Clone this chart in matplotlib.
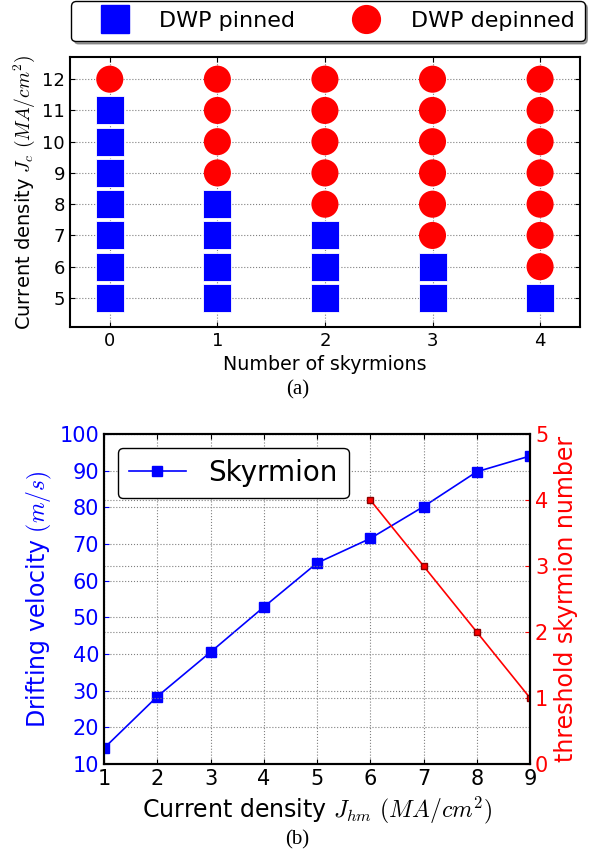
import matplotlib
matplotlib.use("Agg")
import matplotlib.pyplot as plt
from matplotlib.lines import Line2D

plt.rcParams["mathtext.fontset"] = "cm"
plt.rcParams["xtick.direction"] = "in"
plt.rcParams["ytick.direction"] = "in"
plt.rcParams["xtick.top"] = True
plt.rcParams["ytick.right"] = True

# (a) pinning map: number of skyrmions vs current density
skyrmions = [0, 1, 2, 3, 4]
densities = [5, 6, 7, 8, 9, 10, 11, 12]
# highest current density at which the DWP is still pinned
pinned_up_to = [11, 8, 7, 6, 5]

# (b) drifting velocity and threshold skyrmion number
j_hm = [1, 2, 3, 4, 5, 6, 7, 8, 9]
velocity = [14.3, 28.4, 40.5, 52.8, 64.8, 71.5, 80.2, 89.7, 94.0]
j_thr = [6, 7, 8, 9]
threshold = [4, 3, 2, 1]

fig = plt.figure(figsize=(5.95, 8.56), dpi=100)

# ---- panel (a)
ax1 = fig.add_axes([0.1176, 0.618, 0.857, 0.3154])
px, py, dx, dy = [], [], [], []
for n, lim in zip(skyrmions, pinned_up_to):
    for j in densities:
        if j <= lim:
            px.append(n)
            py.append(j)
        else:
            dx.append(n)
            dy.append(j)
ax1.scatter(px, py, marker="s", s=400, c="blue", edgecolors="white", linewidths=0.6, zorder=3)
ax1.scatter(dx, dy, marker="o", s=380, c="red", edgecolors="none", zorder=3)
ax1.set_xlim(-0.37, 4.37)
ax1.set_ylim(4.07, 12.71)
ax1.set_xticks(skyrmions)
ax1.set_yticks(densities)
ax1.tick_params(labelsize=13)
ax1.grid(True, linestyle=":", color="0.5", linewidth=0.8)
for s in ax1.spines.values():
    s.set_linewidth(1.5)
ax1.set_xlabel("Number of skyrmions", fontsize=13.7)
ax1.set_ylabel(r"Current density $J_c$ $(MA/cm^2)$", fontsize=14)

handles = [
    Line2D([], [], marker="s", color="blue", linestyle="none", markersize=20, markeredgecolor="blue"),
    Line2D([], [], marker="o", color="red", linestyle="none", markersize=20, markeredgecolor="red"),
]
leg1 = ax1.legend(handles, ["DWP pinned", "DWP depinned"], ncol=2, fontsize=16,
                  loc="lower center", bbox_to_anchor=(0.506, 1.059), borderaxespad=0,
                  numpoints=1, fancybox=True, shadow=True, borderpad=0.45,
                  handletextpad=0.5, columnspacing=1.7, handlelength=3.0, framealpha=1)
leg1.get_frame().set_edgecolor("black")

fig.text(0.5, 0.544, "(a)", ha="center", va="center", fontsize=15, family="Liberation Serif")

# ---- panel (b)
ax2 = fig.add_axes([0.1748, 0.1075, 0.716, 0.3855])
ax2.plot(j_hm, velocity, color="blue", marker="s", markersize=7, markeredgecolor="blue",
         linewidth=1.2, label="Skyrmion", zorder=3)
ax2.set_xlim(1, 9)
ax2.set_ylim(10, 100)
ax2.set_xticks(j_hm)
ax2.set_yticks(range(10, 101, 10))
ax2.tick_params(axis="y", labelsize=15, colors="blue", right=False)
ax2.tick_params(axis="x", labelsize=15)
ax2.grid(True, linestyle=":", color="0.5", linewidth=0.8)
ax2.set_xlabel(r"Current density $J_{hm}$ $(MA/cm^2)$", fontsize=17)
ax2.set_ylabel(r"Drifting velocity $(m/s)$", fontsize=17, color="blue")
for s in ax2.spines.values():
    s.set_linewidth(1.5)
leg2 = ax2.legend(loc="upper left", fontsize=20, numpoints=1, fancybox=True,
                  handlelength=2.05, handletextpad=0.8, borderpad=0.4,
                  borderaxespad=0.5, framealpha=1)
leg2.get_frame().set_edgecolor("black")

ax3 = ax2.twinx()
ax3.plot(j_thr, threshold, color="red", marker="s", markersize=5, markeredgecolor="darkred",
         linewidth=1.2)
ax3.set_ylim(0, 5)
ax3.set_yticks(range(0, 6))
ax3.tick_params(axis="y", labelsize=15, labelcolor="red", color="red", direction="in")
ax3.grid(True, axis="y", linestyle=":", color="0.5", linewidth=0.8)
ax3.set_ylabel("threshold skyrmion number", fontsize=17, color="red")
for s in ax3.spines.values():
    s.set_linewidth(1.5)

fig.text(0.5, 0.019, "(b)", ha="center", va="center", fontsize=15, family="Liberation Serif")

fig.savefig("out.png", dpi=100)
